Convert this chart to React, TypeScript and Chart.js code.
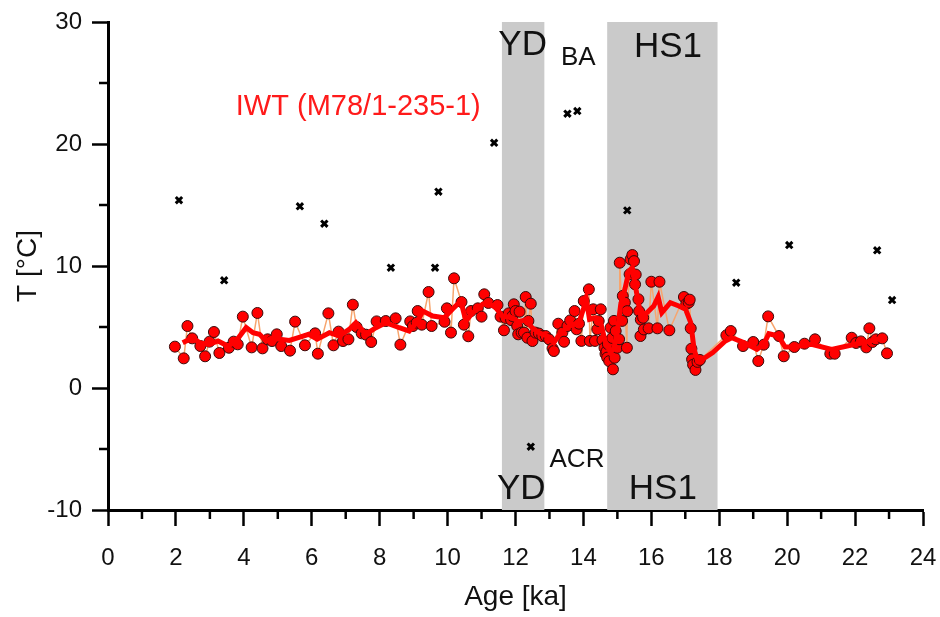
import React, { useEffect, useRef } from 'react';
import { Chart, registerables } from 'chart.js';

Chart.register(...registerables);

const FONT = "'Liberation Sans', Arial, Helvetica, sans-serif";

// Raw IWT measurements (age ka, temperature °C)
const rawAge = [
  1.97, 2.23, 2.34, 2.48, 2.72, 2.86, 2.99, 3.12, 3.28, 3.56, 3.7, 3.82, 3.97, 4.23, 4.4, 4.55, 4.7, 4.83, 4.97, 5.1,
  5.36, 5.51, 5.8, 6.1, 6.18, 6.49, 6.64, 6.79, 6.92, 7.08, 7.21, 7.32, 7.47, 7.6, 7.75, 7.91, 8.18, 8.47, 8.61, 8.9,
  8.98, 9.09, 9.12, 9.24, 9.44, 9.53, 9.91, 9.98, 10.1, 10.19, 10.41, 10.48, 10.61, 10.69, 10.89, 11.0, 11.08, 11.2, 11.47, 11.56,
  11.66, 11.71, 11.8, 11.87, 11.91, 11.95, 12.0, 12.05, 12.08, 12.12, 12.18, 12.25, 12.3, 12.35, 12.38, 12.45, 12.5, 12.59, 12.69, 12.79,
  12.89, 12.99, 13.09, 13.13, 13.26, 13.38, 13.43, 13.53, 13.61, 13.74, 13.8, 13.87, 13.94, 14.01, 14.16, 14.19, 14.29, 14.34, 14.41, 14.45,
  14.51, 14.56, 14.62, 14.65, 14.68, 14.7, 14.72, 14.76, 14.8, 14.85, 14.87, 14.9, 14.92, 14.95, 15.0, 15.05, 15.07, 15.14, 15.16, 15.22,
  15.28, 15.29, 15.36, 15.39, 15.44, 15.49, 15.52, 15.54, 15.62, 15.64, 15.68, 15.69, 15.76, 15.78, 15.92, 16.0, 16.18, 16.24, 16.53, 16.96,
  17.03, 17.1, 17.13, 17.16, 17.18, 17.2, 17.23, 17.3, 17.36, 17.43, 18.21, 18.34, 18.7, 19.0, 19.15, 19.31, 19.44, 19.76, 19.9, 20.21,
  20.51, 20.82, 21.27, 21.4, 21.9, 22.03, 22.17, 22.33, 22.42, 22.51, 22.61, 22.8, 22.94,
];
const rawTemp = [
  3.39, 2.43, 5.08, 4.07, 3.44, 2.6, 3.8, 4.59, 2.87, 3.3, 3.8, 3.58, 5.85, 3.33, 6.15, 3.25, 3.99, 3.85, 4.4, 3.44,
  3.06, 5.44, 3.5, 4.48, 2.81, 6.12, 3.5, 4.62, 3.85, 3.99, 6.83, 5.0, 4.48, 4.37, 3.77, 5.46, 5.49, 5.71, 3.55, 5.46,
  5.08, 5.35, 6.31, 5.19, 7.87, 5.08, 5.43, 6.53, 4.54, 8.99, 7.05, 5.19, 4.24, 6.31, 6.53, 5.85, 7.68, 6.97, 6.8, 5.85,
  4.73, 5.74, 6.12, 5.57, 5.9, 6.86, 6.31, 5.08, 4.4, 6.26, 4.54, 4.54, 7.46, 4.12, 5.5, 6.91, 3.85, 4.54, 4.46, 4.26,
  4.26, 3.99, 3.25, 3.03, 5.27, 4.54, 3.79, 5.08, 5.54, 6.31, 4.81, 5.27, 3.86, 7.13, 8.09, 3.86, 6.45, 3.86, 4.81, 5.49,
  6.45, 3.93, 3.3, 2.8, 3.0, 2.49, 3.6, 2.2, 4.95, 4.1, 1.53, 5.5, 2.48, 4.67, 3.3, 4.0, 10.27, 5.5, 7.55, 7.0,
  3.3, 6.3, 9.32, 10.55, 10.9, 10.4, 8.5, 9.3, 7.27, 6.3, 4.26, 5.6, 5.76, 4.8, 4.89, 8.71, 4.89, 8.71, 4.73, 7.46,
  6.9, 7.0, 7.24, 4.89, 3.22, 2.35, 1.9, 1.48, 2.14, 2.3, 4.32, 4.67, 3.44, 3.77, 2.21, 3.55, 5.87, 4.26, 2.6, 3.36,
  3.63, 3.99, 2.81, 2.81, 4.12, 3.69, 3.82, 3.33, 4.89, 3.77, 3.99, 4.07, 2.84,
];

// Smoothed IWT curve
const smoothAge = [
  2.2, 2.48, 2.71, 2.98, 3.24, 3.53, 3.77, 4.07, 4.27, 4.46, 4.66, 4.85, 5.05, 5.34, 5.63, 5.91, 6.16, 6.52, 6.81, 7.1,
  7.3, 7.59, 7.89, 8.18, 8.58, 8.87, 9.12, 9.27, 9.56, 9.9, 10.14, 10.39, 10.54, 10.74, 11.03, 11.18, 11.42, 11.61, 11.9, 12.1,
  12.3, 12.49, 12.69, 12.93, 13.13, 13.33, 13.58, 13.87, 14.01, 14.08, 14.18, 14.36, 14.51, 14.65, 14.8, 14.9, 15.0, 15.1, 15.23, 15.34,
  15.44, 15.54, 15.68, 15.87, 16.07, 16.2, 16.31, 16.56, 16.81, 17.01, 17.16, 17.26, 17.36, 17.51, 17.81, 18.18, 18.37, 18.72, 19.11, 19.31,
  19.46, 19.74, 19.94, 20.19, 20.72, 21.31, 21.9, 22.39, 22.59, 22.83,
];
const smoothTemp = [
  3.71, 4.1, 3.7, 3.58, 3.85, 3.44, 3.85, 4.95, 4.53, 4.4, 3.85, 4.12, 3.99, 3.9, 4.15, 4.4, 4.0, 4.53, 4.26, 4.8,
  5.35, 4.4, 4.94, 5.35, 4.94, 4.67, 5.49, 6.31, 5.9, 5.76, 6.45, 7.13, 5.49, 6.17, 6.86, 7.0, 6.58, 5.9, 5.76, 5.42,
  5.6, 4.94, 4.53, 4.26, 3.72, 4.53, 5.08, 5.35, 6.58, 7.35, 5.62, 5.76, 5.35, 3.72, 2.9, 3.3, 4.67, 6.86, 8.2, 9.59,
  9.86, 8.2, 6.04, 6.17, 6.72, 7.46, 6.17, 6.99, 6.72, 6.45, 5.35, 3.17, 2.22, 2.35, 2.9, 3.85, 4.12, 3.72, 3.17, 3.58,
  4.45, 4.26, 3.36, 3.36, 3.58, 3.17, 3.53, 3.8, 3.99, 3.99,
];

// Excluded / outlier values (black crosses)
const crossAge = [2.09, 3.42, 5.65, 6.37, 8.33, 9.63, 9.73, 11.37, 12.45, 13.53, 13.82, 15.29, 18.5, 20.06, 22.65, 23.09];
const crossTemp = [15.39, 8.83, 14.89, 13.47, 9.86, 9.86, 16.09, 20.1, -4.81, 22.48, 22.7, 14.56, 8.63, 11.72, 11.29, 7.21];

// Shaded climate periods (YD, HS1)
const periodStart = [11.6, 14.7];
const periodEnd = [12.85, 17.95];

// Text labels
const labelText = ['YD', 'BA', 'HS1', 'YD', 'ACR', 'HS1', 'IWT (M78/1-235-1)'];
const labelAge = [12.21, 13.85, 16.49, 12.17, 13.81, 16.34, 7.37];
const labelTemp = [27.3, 26.48, 27.1, -9.12, -6.45, -9.12, 22.35];
const labelSize = [35, 26, 35, 35, 26, 35, 29];
const labelColor = ['#111', '#111', '#111', '#111', '#111', '#111', '#ff1a1a'];

const X_MIN = 0, X_MAX = 24, Y_MIN = -10, Y_MAX = 30;

const backgroundPlugin = {
  id: 'periodShade',
  beforeDatasetsDraw(chart: any) {
    const { ctx, chartArea, scales } = chart;
    ctx.save();
    ctx.fillStyle = '#cacaca';
    for (let i = 0; i < periodStart.length; i++) {
      const x1 = scales.x.getPixelForValue(periodStart[i]);
      const x2 = scales.x.getPixelForValue(periodEnd[i]);
      ctx.fillRect(x1, chartArea.top, x2 - x1, chartArea.bottom - chartArea.top);
    }
    ctx.restore();
  },
  afterDatasetsDraw(chart: any) {
    const { ctx, scales } = chart;
    ctx.save();
    ctx.textAlign = 'center';
    ctx.textBaseline = 'alphabetic';
    for (let i = 0; i < labelText.length; i++) {
      ctx.font = `${labelSize[i]}px ${FONT}`;
      ctx.fillStyle = labelColor[i];
      ctx.fillText(labelText[i], scales.x.getPixelForValue(labelAge[i]), scales.y.getPixelForValue(labelTemp[i]));
    }
    ctx.restore();
  },
  afterDraw(chart: any) {
    const { ctx, chartArea, scales } = chart;
    ctx.save();
    ctx.strokeStyle = '#000';
    ctx.lineWidth = 2.5;
    for (const t of scales.x.ticks) {
      if (t.value % 2 !== 0) {
        const px = scales.x.getPixelForValue(t.value);
        ctx.beginPath();
        ctx.moveTo(px, chartArea.bottom);
        ctx.lineTo(px, chartArea.bottom + 9);
        ctx.stroke();
      }
    }
    for (const t of scales.y.ticks) {
      if (t.value % 10 !== 0) {
        const py = scales.y.getPixelForValue(t.value);
        ctx.beginPath();
        ctx.moveTo(chartArea.left, py);
        ctx.lineTo(chartArea.left - 9, py);
        ctx.stroke();
      }
    }
    ctx.restore();
  },
};

export default function App() {
  const canvasRef = useRef<HTMLCanvasElement | null>(null);

  useEffect(() => {
    if (!canvasRef.current) return;
    const raw = rawAge.map((a, i) => ({ x: a, y: rawTemp[i] }));
    const smooth = smoothAge.map((a, i) => ({ x: a, y: smoothTemp[i] }));
    const cross = crossAge.map((a, i) => ({ x: a, y: crossTemp[i] }));

    const chart = new Chart(canvasRef.current, {
      type: 'scatter',
      data: {
        datasets: [
          {
            label: 'smoothed',
            data: smooth,
            showLine: true,
            borderColor: '#ff0000',
            borderWidth: 5,
            pointRadius: 0,
            tension: 0,
            order: 0,
          },
          {
            label: 'IWT',
            data: raw,
            showLine: true,
            borderColor: '#f7a56e',
            borderWidth: 1.5,
            pointRadius: 5.5,
            pointBackgroundColor: '#ff0000',
            pointBorderColor: '#3a0a0a',
            pointBorderWidth: 1,
            order: 1,
          },
          {
            label: 'excluded',
            data: cross,
            showLine: false,
            pointStyle: 'crossRot',
            pointRadius: 4.5,
            borderColor: '#000',
            pointBorderColor: '#000',
            pointBorderWidth: 3,
            order: 2,
          },
        ] as any,
      },
      options: {
        animation: false,
        responsive: false,
        devicePixelRatio: 1,
        layout: { padding: { top: 22, right: 17, left: 0, bottom: 0 } },
        plugins: { legend: { display: false }, tooltip: { enabled: false } },
        scales: {
          x: {
            type: 'linear',
            min: X_MIN,
            max: X_MAX,
            afterFit: (s: any) => { s.height = 107; s.paddingLeft = 0; s.paddingRight = 0; },
            border: { display: true, color: '#000', width: 3 },
            grid: {
              drawOnChartArea: false,
              drawTicks: true,
              tickLength: 16,
              tickWidth: 2.5,
              tickColor: (c: any) => (c.tick && c.tick.value % 2 === 0 ? '#000' : 'rgba(0,0,0,0)'),
            },
            ticks: {
              stepSize: 1,
              autoSkip: false,
              maxRotation: 0,
              padding: 18,
              color: '#111',
              font: { family: FONT, size: 24 },
              callback: (v: any) => (Number(v) % 2 === 0 ? String(v) : ''),
            },
            title: {
              display: true,
              text: 'Age [ka]',
              color: '#111',
              font: { family: FONT, size: 28 },
              padding: { top: 0, bottom: 3 },
            },
          },
          y: {
            type: 'linear',
            min: Y_MIN,
            max: Y_MAX,
            afterFit: (s: any) => { s.width = 108; s.paddingTop = 0; s.paddingBottom = 0; },
            border: { display: true, color: '#000', width: 3 },
            grid: {
              drawOnChartArea: false,
              drawTicks: true,
              tickLength: 16,
              tickWidth: 2.5,
              tickColor: (c: any) => (c.tick && c.tick.value % 10 === 0 ? '#000' : 'rgba(0,0,0,0)'),
            },
            ticks: {
              stepSize: 5,
              autoSkip: false,
              padding: 10,
              color: '#111',
              font: { family: FONT, size: 24 },
              callback: (v: any) => (Number(v) % 10 === 0 ? String(v) : ''),
            },
            title: {
              display: true,
              text: 'T [°C]',
              color: '#111',
              font: { family: FONT, size: 28 },
              padding: { top: 11, bottom: 0 },
            },
          },
        },
      },
      plugins: [backgroundPlugin],
    } as any);

    return () => chart.destroy();
  }, []);

  return (
    <div style={{ position: 'absolute', left: 0, top: 0, width: 940, height: 617, background: '#fff' }}>
      <canvas ref={canvasRef} width={940} height={617} />
    </div>
  );
}
